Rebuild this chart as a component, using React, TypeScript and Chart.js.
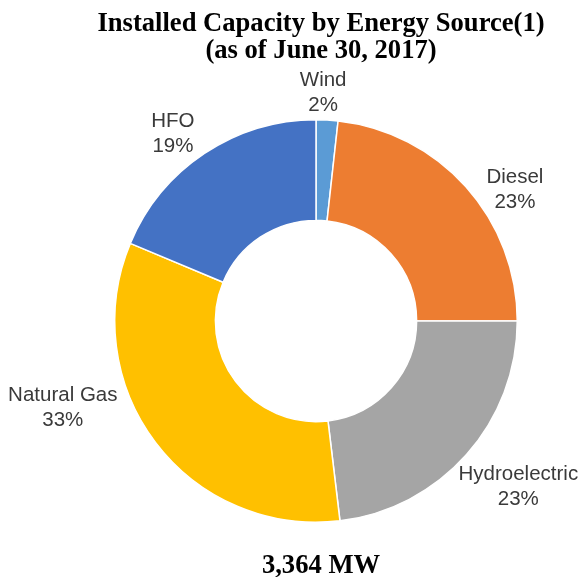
import React, { useEffect, useRef } from 'react';
import { Chart, registerables } from 'chart.js';

Chart.register(...registerables);

const categories = ['Wind', 'Diesel', 'Hydroelectric', 'Natural Gas', 'HFO'];
const shares = [1.75, 23.25, 23.1, 33.2, 18.7];
const colors = ['#5B9BD5', '#ED7D31', '#A5A5A5', '#FFC000', '#4472C4'];
const titleLines = ['Installed Capacity by Energy Source(1)', '(as of June 30, 2017)'];
const totalLabel = '3,364 MW';
// label placement relative to each slice (degrees shift from mid-angle, px beyond outer radius)
const labelAngleShift = [-1.35, 8.45, -2.2, 18.1, -3.8];
const labelRadialGap = [26.6, 37, 60.5, 66.5, 34];

const textPlugin = {
  id: 'textPlugin',
  afterDraw(chart: any) {
    const ctx = chart.ctx;
    const area = chart.chartArea;
    const cx = (area.left + area.right) / 2 + 5;
    ctx.save();
    // title
    ctx.fillStyle = '#000000';
    ctx.font = 'bold 26.6px "Liberation Serif", "Times New Roman", serif';
    ctx.textAlign = 'center';
    ctx.textBaseline = 'alphabetic';
    ctx.fillText(titleLines[0], cx, 31);
    ctx.fillText(titleLines[1], cx, 58);
    // total
    ctx.fillText(totalLabel, cx, 573);

    // slice labels
    const meta = chart.getDatasetMeta(0);
    ctx.font = '20.5px "Liberation Sans", Arial, sans-serif';
    ctx.fillStyle = '#3a3a3a';
    ctx.textBaseline = 'middle';
    meta.data.forEach((arc: any, i: number) => {
      const p = arc.getProps(['x', 'y', 'startAngle', 'endAngle', 'outerRadius'], true);
      const mid = (p.startAngle + p.endAngle) / 2 + (labelAngleShift[i] * Math.PI) / 180;
      const r = p.outerRadius + labelRadialGap[i];
      const lx = p.x + r * Math.cos(mid);
      const ly = p.y + r * Math.sin(mid);
      ctx.fillText(categories[i], lx, ly - 12.5);
      ctx.fillText(Math.round(shares[i]) + '%', lx, ly + 12.5);
    });
    ctx.restore();
  },
};

export default function App() {
  const ref = useRef<HTMLCanvasElement | null>(null);
  useEffect(() => {
    if (!ref.current) return;
    const chart = new Chart(ref.current, {
      type: 'doughnut',
      data: {
        labels: categories,
        datasets: [
          {
            data: shares,
            backgroundColor: colors,
            borderColor: '#ffffff',
            borderWidth: 1.5,
          },
        ],
      },
      options: {
        responsive: true,
        maintainAspectRatio: false,
        animation: false,
        cutout: '50%',
        layout: { padding: { left: 114, right: 64, top: 119, bottom: 54 } },
        plugins: {
          legend: { display: false },
          title: { display: false },
          tooltip: { enabled: false },
        },
      },
      plugins: [textPlugin],
    });
    return () => chart.destroy();
  }, []);
  return (
    <div style={{ position: 'fixed', left: 0, top: 0, width: 582, height: 577, background: '#ffffff' }}>
      <canvas ref={ref} />
    </div>
  );
}
